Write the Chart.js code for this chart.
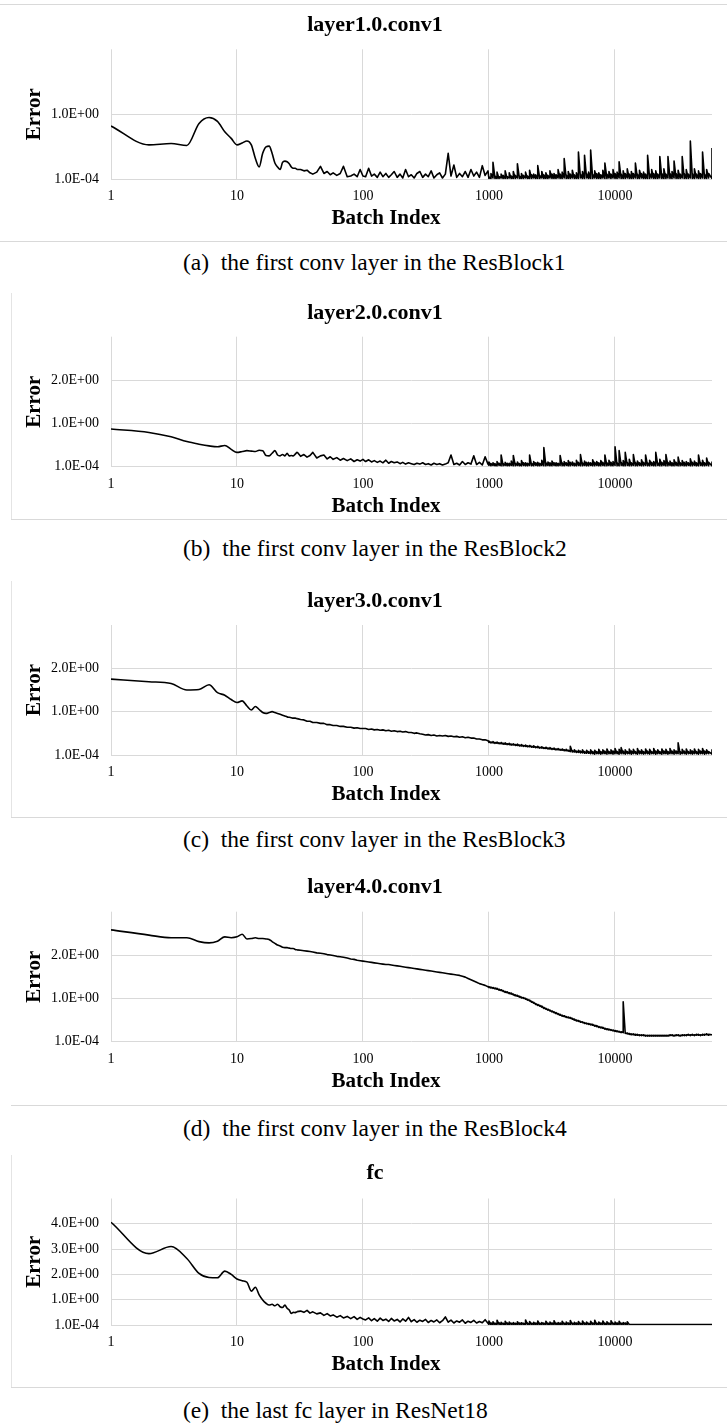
<!DOCTYPE html>
<html>
<head>
<meta charset="utf-8">
<script src="https://cdn.jsdelivr.net/npm/chart.js@4.4.1/dist/chart.umd.min.js"></script>
<style>
html,body{margin:0;padding:0;background:#fff;}
body{width:727px;height:1423px;position:relative;overflow:hidden;font-family:"Liberation Serif","Times New Roman",serif;}
canvas.panel{position:absolute;left:8px;}
.cap{position:absolute;left:183px;font-size:23.5px;line-height:24px;color:#000;white-space:nowrap;}
.hl{position:absolute;height:0;border-top:1px solid #d9d9d9;}
.vl{position:absolute;width:0;border-left:1px solid #e4e4e4;}
</style>
</head>
<body>
<div class="hl" style="top:4px;left:0;width:727px"></div>
<div class="hl" style="top:241px;left:0;width:727px"></div>
<div class="vl" style="left:11px;top:293px;height:226px"></div>
<div class="hl" style="top:519px;left:11px;width:716px"></div>
<div class="vl" style="left:11px;top:581px;height:236px"></div>
<div class="hl" style="top:817px;left:11px;width:716px"></div>
<div class="hl" style="top:1105px;left:11px;width:716px"></div>
<div class="vl" style="left:11px;top:1155px;height:232px"></div>
<div class="hl" style="top:1387px;left:11px;width:716px"></div>

<canvas class="panel" id="c0" width="734" height="236" style="top:5px"></canvas>
<canvas class="panel" id="c1" width="734" height="236" style="top:293px"></canvas>
<canvas class="panel" id="c2" width="734" height="236" style="top:581px"></canvas>
<canvas class="panel" id="c3" width="734" height="237" style="top:867px"></canvas>
<canvas class="panel" id="c4" width="734" height="234" style="top:1153px"></canvas>

<script>
// ---------------- DATA ----------------
const chartTitles = ['layer1.0.conv1', 'layer2.0.conv1', 'layer3.0.conv1', 'layer4.0.conv1', 'fc'];
const captions = [
  '(a)\u2002the first conv layer in the ResBlock1',
  '(b)\u2002the first conv layer in the ResBlock2',
  '(c)\u2002the first conv layer in the ResBlock3',
  '(d)\u2002the first conv layer in the ResBlock4',
  '(e)\u2002the last fc layer in ResNet18'
];
const xAxisTitle = 'Batch Index';
const yAxisTitle = 'Error';

const xTickValues = [1, 10, 100, 1000, 10000];
const xTickLabels = ['1', '10', '100', '1000', '10000'];
const xMaxBatch = 59000;

const yTicksTwo = [0.0001, 1];
const yLabelsTwo = ['1.0E-04', '1.0E+00'];
const yTicksThree = [0.0001, 1, 2];
const yLabelsThree = ['1.0E-04', '1.0E+00', '2.0E+00'];
const yTicksFive = [0.0001, 1, 2, 3, 4];
const yLabelsFive = ['1.0E-04', '1.0E+00', '2.0E+00', '3.0E+00', '4.0E+00'];
const yAxisMax = [2, 3, 3, 3, 5];

// batch indices (the last 110, from 1000 on, are dense bins that carry a low and a high value)
const batchIndex = [
  1, 2, 3, 4, 5, 6, 7, 8, 9, 10,
  11, 12, 13, 14, 15, 16, 17, 18, 19, 20,
  21, 22, 23, 24, 25, 26, 27, 28, 29, 30,
  32, 34, 36, 38, 40, 43, 46, 49, 52, 55,
  58, 62, 66, 70, 75, 80, 85, 90, 95, 100,
  105, 111, 117, 123, 130, 137, 144, 152, 160, 168,
  177, 187, 197, 207, 218, 230, 242, 255, 268, 283,
  298, 314, 330, 348, 366, 386, 406, 428, 451, 475,
  500, 527, 555, 585, 616, 649, 683, 720, 758, 798,
  841, 886, 933, 983,
  1000, 1038, 1077, 1118, 1160, 1204, 1250, 1297, 1346, 1397,
  1450, 1505, 1562, 1621, 1683, 1747, 1813, 1881, 1953, 2027,
  2103, 2183, 2266, 2352, 2441, 2533, 2629, 2729, 2832, 2940,
  3051, 3167, 3287, 3411, 3541, 3675, 3814, 3958, 4108, 4264,
  4426, 4593, 4767, 4948, 5135, 5330, 5532, 5741, 5959, 6185,
  6419, 6662, 6915, 7177, 7449, 7731, 8024, 8328, 8644, 8971,
  9311, 9664, 10030, 10410, 10805, 11214, 11639, 12080, 12538, 13013,
  13506, 14018, 14549, 15100, 15673, 16267, 16883, 17523, 18187, 18876,
  19591, 20334, 21104, 21904, 22734, 23595, 24489, 25417, 26380, 27380,
  28417, 29494, 30612, 31772, 32975, 34225, 35521, 36867, 38264, 39714,
  41219, 42781, 44402, 46085, 47831, 49643, 51524, 53477, 55503, 59000
];

const errLayer1 = [
  0.82, 0.53, 0.55, 0.52, 0.86, 0.95, 0.89, 0.73, 0.63, 0.53,
  0.56, 0.59, 0.53, 0.32, 0.19, 0.40, 0.50, 0.51, 0.40, 0.25,
  0.19, 0.15, 0.26, 0.28, 0.27, 0.24, 0.19, 0.17, 0.17, 0.15,
  0.15, 0.13, 0.14, 0.10, 0.08, 0.11, 0.20, 0.09, 0.12, 0.07,
  0.10, 0.06, 0.09, 0.20, 0.04, 0.05, 0.08, 0.04, 0.15, 0.05,
  0.04, 0.17, 0.05, 0.08, 0.03, 0.11, 0.04, 0.09, 0.03, 0.07,
  0.12, 0.03, 0.08, 0.02, 0.15, 0.04, 0.07, 0.02, 0.09, 0.12,
  0.03, 0.08, 0.04, 0.13, 0.02, 0.07, 0.10, 0.02, 0.08, 0.40,
  0.05, 0.22, 0.03, 0.09, 0.04, 0.12, 0.03, 0.15, 0.05, 0.11,
  0.03, 0.21, 0.06, 0.13,
  0.04, 0.09, 0.26, 0.05, 0.11, 0.04, 0.08, 0.06, 0.13, 0.04,
  0.10, 0.05, 0.12, 0.06, 0.24, 0.05, 0.09, 0.06, 0.11, 0.05,
  0.14, 0.07, 0.08, 0.07, 0.21, 0.06, 0.12, 0.07, 0.10, 0.06,
  0.13, 0.08, 0.09, 0.07, 0.15, 0.08, 0.11, 0.32, 0.07, 0.12,
  0.08, 0.14, 0.07, 0.10, 0.42, 0.08, 0.12, 0.37, 0.09, 0.11,
  0.45, 0.08, 0.13, 0.09, 0.10, 0.07, 0.14, 0.25, 0.08, 0.12,
  0.08, 0.15, 0.09, 0.11, 0.27, 0.08, 0.13, 0.09, 0.16, 0.08,
  0.12, 0.09, 0.25, 0.08, 0.14, 0.09, 0.11, 0.08, 0.37, 0.09,
  0.15, 0.09, 0.13, 0.08, 0.35, 0.09, 0.16, 0.08, 0.35, 0.09,
  0.12, 0.28, 0.09, 0.14, 0.08, 0.35, 0.09, 0.15, 0.08, 0.59,
  0.09, 0.16, 0.08, 0.13, 0.09, 0.42, 0.08, 0.15, 0.09, 0.48
];
const errLayer1Low = [
  0.01, 0.01, 0.02, 0.01, 0.01, 0.01, 0.02, 0.01, 0.01, 0.01,
  0.02, 0.01, 0.01, 0.01, 0.02, 0.01, 0.01, 0.01, 0.02, 0.01,
  0.01, 0.01, 0.02, 0.01, 0.01, 0.01, 0.02, 0.01, 0.01, 0.01,
  0.02, 0.01, 0.01, 0.01, 0.02, 0.01, 0.01, 0.02, 0.01, 0.01,
  0.01, 0.02, 0.01, 0.01, 0.01, 0.02, 0.01, 0.01, 0.02, 0.01,
  0.01, 0.01, 0.02, 0.01, 0.01, 0.01, 0.02, 0.01, 0.01, 0.02,
  0.01, 0.02, 0.01, 0.01, 0.02, 0.01, 0.01, 0.01, 0.02, 0.01,
  0.01, 0.01, 0.02, 0.01, 0.01, 0.02, 0.01, 0.01, 0.01, 0.01,
  0.02, 0.01, 0.01, 0.01, 0.02, 0.01, 0.01, 0.01, 0.02, 0.01,
  0.01, 0.02, 0.01, 0.01, 0.01, 0.02, 0.01, 0.01, 0.01, 0.02,
  0.01, 0.01, 0.02, 0.01, 0.01, 0.02, 0.01, 0.01, 0.02, 0.01
];

const errLayer2 = [
  0.87, 0.79, 0.69, 0.58, 0.52, 0.48, 0.46, 0.49, 0.40, 0.33,
  0.35, 0.37, 0.36, 0.35, 0.38, 0.37, 0.26, 0.25, 0.31, 0.37,
  0.27, 0.25, 0.28, 0.25, 0.31, 0.25, 0.26, 0.25, 0.29, 0.34,
  0.24, 0.28, 0.22, 0.26, 0.33, 0.20, 0.25, 0.27, 0.18, 0.23,
  0.17, 0.21, 0.15, 0.19, 0.14, 0.18, 0.12, 0.16, 0.13, 0.17,
  0.12, 0.16, 0.11, 0.14, 0.10, 0.13, 0.09, 0.15, 0.08, 0.12,
  0.09, 0.11, 0.07, 0.10, 0.06, 0.09, 0.07, 0.05, 0.08, 0.06,
  0.09, 0.05, 0.07, 0.04, 0.08, 0.05, 0.07, 0.04, 0.06, 0.09,
  0.27, 0.05, 0.08, 0.04, 0.12, 0.05, 0.09, 0.06, 0.25, 0.05,
  0.10, 0.04, 0.23, 0.06,
  0.11, 0.07, 0.09, 0.07, 0.12, 0.08, 0.27, 0.07, 0.10, 0.08,
  0.08, 0.13, 0.26, 0.08, 0.11, 0.07, 0.14, 0.09, 0.09, 0.08,
  0.27, 0.08, 0.12, 0.09, 0.10, 0.08, 0.15, 0.44, 0.09, 0.11,
  0.09, 0.13, 0.09, 0.09, 0.08, 0.26, 0.09, 0.12, 0.09, 0.14,
  0.10, 0.11, 0.08, 0.15, 0.10, 0.28, 0.09, 0.13, 0.10, 0.10,
  0.09, 0.16, 0.10, 0.12, 0.09, 0.14, 0.10, 0.27, 0.09, 0.15,
  0.10, 0.12, 0.46, 0.09, 0.37, 0.10, 0.14, 0.33, 0.10, 0.17,
  0.09, 0.28, 0.10, 0.13, 0.09, 0.16, 0.10, 0.27, 0.09, 0.15,
  0.10, 0.12, 0.33, 0.09, 0.17, 0.10, 0.14, 0.28, 0.10, 0.13,
  0.09, 0.16, 0.10, 0.22, 0.09, 0.14, 0.10, 0.12, 0.09, 0.18,
  0.10, 0.13, 0.09, 0.27, 0.10, 0.15, 0.09, 0.20, 0.10, 0.12
];
const errLayer2Low = [
  0.03, 0.02, 0.03, 0.02, 0.02, 0.03, 0.02, 0.02, 0.03, 0.02,
  0.02, 0.03, 0.02, 0.02, 0.03, 0.02, 0.02, 0.03, 0.02, 0.02,
  0.03, 0.02, 0.02, 0.03, 0.02, 0.02, 0.03, 0.02, 0.02, 0.03,
  0.02, 0.02, 0.03, 0.02, 0.02, 0.03, 0.02, 0.02, 0.03, 0.02,
  0.02, 0.03, 0.02, 0.02, 0.03, 0.02, 0.02, 0.03, 0.02, 0.02,
  0.03, 0.02, 0.02, 0.03, 0.02, 0.02, 0.03, 0.02, 0.02, 0.03,
  0.02, 0.02, 0.03, 0.02, 0.02, 0.03, 0.02, 0.02, 0.03, 0.02,
  0.02, 0.03, 0.02, 0.02, 0.03, 0.02, 0.02, 0.03, 0.02, 0.02,
  0.03, 0.02, 0.02, 0.03, 0.02, 0.02, 0.03, 0.02, 0.02, 0.03,
  0.02, 0.02, 0.03, 0.02, 0.02, 0.03, 0.02, 0.02, 0.03, 0.02,
  0.02, 0.03, 0.02, 0.02, 0.03, 0.02, 0.02, 0.03, 0.02, 0.02
];

const errLayer3 = [
  1.75, 1.69, 1.65, 1.50, 1.51, 1.62, 1.44, 1.38, 1.28, 1.21,
  1.25, 1.13, 1.04, 1.12, 1.05, 0.98, 0.96, 0.98, 1.00, 0.98,
  0.96, 0.94, 0.92, 0.90, 0.88, 0.87, 0.86, 0.85, 0.85, 0.84,
  0.82, 0.81, 0.78, 0.78, 0.75, 0.75, 0.73, 0.73, 0.70, 0.70,
  0.68, 0.68, 0.66, 0.66, 0.64, 0.64, 0.62, 0.63, 0.61, 0.61,
  0.61, 0.59, 0.60, 0.58, 0.59, 0.57, 0.58, 0.56, 0.57, 0.55,
  0.56, 0.54, 0.55, 0.53, 0.54, 0.52, 0.52, 0.50, 0.51, 0.49,
  0.48, 0.46, 0.47, 0.45, 0.46, 0.44, 0.45, 0.44, 0.45, 0.43,
  0.44, 0.42, 0.43, 0.41, 0.42, 0.40, 0.41, 0.39, 0.39, 0.37,
  0.37, 0.35, 0.35, 0.33,
  0.32, 0.30, 0.31, 0.29, 0.30, 0.28, 0.29, 0.27, 0.28, 0.26,
  0.27, 0.25, 0.26, 0.24, 0.25, 0.23, 0.24, 0.22, 0.23, 0.21,
  0.22, 0.20, 0.21, 0.19, 0.20, 0.18, 0.19, 0.17, 0.18, 0.16,
  0.17, 0.15, 0.16, 0.14, 0.15, 0.13, 0.14, 0.12, 0.13, 0.11,
  0.20, 0.10, 0.12, 0.09, 0.11, 0.09, 0.12, 0.08, 0.11, 0.08,
  0.12, 0.08, 0.11, 0.08, 0.13, 0.08, 0.12, 0.09, 0.14, 0.08,
  0.12, 0.09, 0.15, 0.08, 0.13, 0.17, 0.09, 0.12, 0.08, 0.14,
  0.09, 0.13, 0.08, 0.15, 0.09, 0.12, 0.08, 0.14, 0.09, 0.13,
  0.08, 0.15, 0.09, 0.12, 0.08, 0.14, 0.09, 0.13, 0.08, 0.15,
  0.09, 0.12, 0.09, 0.28, 0.08, 0.13, 0.09, 0.14, 0.08, 0.12,
  0.09, 0.14, 0.08, 0.13, 0.09, 0.15, 0.09, 0.12, 0.08, 0.13
];
const errLayer3Low = [
  0.29, 0.28, 0.28, 0.27, 0.27, 0.26, 0.26, 0.25, 0.25, 0.24,
  0.24, 0.23, 0.23, 0.22, 0.22, 0.21, 0.21, 0.20, 0.20, 0.19,
  0.19, 0.18, 0.18, 0.17, 0.17, 0.16, 0.16, 0.15, 0.15, 0.14,
  0.14, 0.13, 0.13, 0.12, 0.12, 0.11, 0.11, 0.10, 0.10, 0.09,
  0.08, 0.07, 0.07, 0.06, 0.06, 0.05, 0.05, 0.04, 0.04, 0.04,
  0.03, 0.03, 0.02, 0.03, 0.03, 0.02, 0.03, 0.03, 0.02, 0.03,
  0.03, 0.02, 0.03, 0.03, 0.02, 0.03, 0.03, 0.02, 0.03, 0.03,
  0.02, 0.03, 0.03, 0.02, 0.03, 0.03, 0.02, 0.03, 0.03, 0.02,
  0.03, 0.03, 0.02, 0.03, 0.03, 0.02, 0.03, 0.03, 0.02, 0.03,
  0.03, 0.02, 0.03, 0.03, 0.02, 0.03, 0.03, 0.02, 0.03, 0.03,
  0.02, 0.03, 0.03, 0.02, 0.03, 0.03, 0.02, 0.03, 0.03, 0.02
];

const errLayer4 = [
  2.58, 2.46, 2.40, 2.40, 2.31, 2.28, 2.32, 2.42, 2.40, 2.42,
  2.48, 2.37, 2.38, 2.40, 2.38, 2.38, 2.37, 2.36, 2.31, 2.27,
  2.23, 2.21, 2.18, 2.17, 2.17, 2.16, 2.15, 2.15, 2.13, 2.12,
  2.11, 2.10, 2.09, 2.08, 2.07, 2.05, 2.04, 2.03, 2.01, 2.00,
  1.99, 1.97, 1.96, 1.95, 1.93, 1.91, 1.90, 1.88, 1.87, 1.86,
  1.85, 1.84, 1.83, 1.82, 1.81, 1.80, 1.79, 1.78, 1.78, 1.77,
  1.76, 1.75, 1.74, 1.73, 1.72, 1.71, 1.70, 1.69, 1.68, 1.67,
  1.66, 1.65, 1.64, 1.63, 1.62, 1.61, 1.60, 1.59, 1.58, 1.57,
  1.56, 1.55, 1.54, 1.53, 1.51, 1.49, 1.46, 1.43, 1.40, 1.37,
  1.34, 1.32, 1.30, 1.27,
  1.27, 1.26, 1.25, 1.24, 1.23, 1.21, 1.20, 1.18, 1.16, 1.15,
  1.13, 1.12, 1.10, 1.08, 1.07, 1.05, 1.03, 1.02, 1.00, 0.98,
  0.96, 0.93, 0.91, 0.88, 0.86, 0.84, 0.82, 0.79, 0.77, 0.75,
  0.73, 0.71, 0.69, 0.67, 0.65, 0.63, 0.61, 0.60, 0.58, 0.57,
  0.56, 0.54, 0.52, 0.50, 0.49, 0.47, 0.46, 0.44, 0.43, 0.42,
  0.41, 0.40, 0.38, 0.37, 0.35, 0.34, 0.33, 0.31, 0.30, 0.29,
  0.28, 0.27, 0.26, 0.25, 0.24, 0.23, 0.92, 0.21, 0.20, 0.19,
  0.18, 0.18, 0.17, 0.17, 0.16, 0.16, 0.16, 0.15, 0.15, 0.15,
  0.15, 0.15, 0.15, 0.15, 0.15, 0.15, 0.15, 0.15, 0.15, 0.16,
  0.16, 0.15, 0.16, 0.16, 0.15, 0.16, 0.16, 0.16, 0.17, 0.16,
  0.17, 0.16, 0.17, 0.17, 0.16, 0.17, 0.17, 0.18, 0.17, 0.18
];
const errLayer4Low = [
  1.25, 1.24, 1.23, 1.22, 1.21, 1.19, 1.18, 1.16, 1.14, 1.13,
  1.11, 1.10, 1.08, 1.06, 1.05, 1.03, 1.01, 1.00, 0.98, 0.96,
  0.94, 0.91, 0.89, 0.86, 0.84, 0.82, 0.80, 0.77, 0.75, 0.73,
  0.71, 0.69, 0.67, 0.65, 0.63, 0.61, 0.59, 0.58, 0.56, 0.55,
  0.54, 0.52, 0.50, 0.48, 0.47, 0.45, 0.44, 0.42, 0.41, 0.40,
  0.39, 0.38, 0.36, 0.35, 0.33, 0.32, 0.31, 0.29, 0.28, 0.27,
  0.26, 0.25, 0.24, 0.23, 0.22, 0.21, 0.21, 0.19, 0.18, 0.17,
  0.16, 0.16, 0.15, 0.15, 0.14, 0.14, 0.14, 0.13, 0.13, 0.13,
  0.13, 0.13, 0.13, 0.13, 0.13, 0.13, 0.13, 0.13, 0.13, 0.14,
  0.14, 0.13, 0.14, 0.14, 0.13, 0.14, 0.14, 0.14, 0.15, 0.14,
  0.15, 0.14, 0.15, 0.15, 0.14, 0.15, 0.15, 0.16, 0.15, 0.16
];

const errFc = [
  4.06, 2.82, 3.10, 2.63, 2.04, 1.88, 1.87, 2.13, 2.00, 1.82,
  1.75, 1.69, 1.34, 1.49, 1.19, 0.99, 0.86, 0.79, 0.82, 0.76,
  0.82, 0.72, 0.69, 0.79, 0.66, 0.59, 0.46, 0.50, 0.49, 0.53,
  0.55, 0.50, 0.58, 0.47, 0.52, 0.44, 0.48, 0.38, 0.45, 0.36,
  0.40, 0.31, 0.37, 0.28, 0.34, 0.25, 0.33, 0.22, 0.30, 0.24,
  0.20, 0.28, 0.17, 0.25, 0.15, 0.27, 0.18, 0.23, 0.14, 0.26,
  0.16, 0.22, 0.12, 0.24, 0.15, 0.30, 0.13, 0.21, 0.11, 0.19,
  0.14, 0.22, 0.10, 0.18, 0.12, 0.20, 0.09, 0.17, 0.32, 0.11,
  0.19, 0.08, 0.16, 0.11, 0.20, 0.07, 0.15, 0.10, 0.18, 0.08,
  0.14, 0.09, 0.21, 0.07,
  0.16, 0.08, 0.13, 0.07, 0.19, 0.09, 0.11, 0.07, 0.15, 0.08,
  0.12, 0.07, 0.10, 0.07, 0.13, 0.08, 0.09, 0.07, 0.20, 0.08,
  0.14, 0.07, 0.11, 0.08, 0.16, 0.07, 0.10, 0.08, 0.15, 0.07,
  0.12, 0.08, 0.17, 0.07, 0.10, 0.08, 0.15, 0.07, 0.12, 0.08,
  0.18, 0.07, 0.11, 0.08, 0.14, 0.07, 0.16, 0.08, 0.12, 0.07,
  0.15, 0.08, 0.19, 0.07, 0.12, 0.08, 0.16, 0.07, 0.13, 0.08,
  0.17, 0.07, 0.12, 0.08, 0.15, 0.07, 0.10, 0.08, 0.13, 0.02,
  0.02, 0.02, 0.02, 0.02, 0.02, 0.02, 0.02, 0.02, 0.02, 0.02,
  0.02, 0.02, 0.02, 0.02, 0.02, 0.02, 0.02, 0.02, 0.02, 0.02,
  0.02, 0.02, 0.02, 0.02, 0.02, 0.02, 0.02, 0.02, 0.02, 0.02,
  0.02, 0.02, 0.02, 0.02, 0.02, 0.02, 0.02, 0.02, 0.02, 0.02
];
const errFcLow = [
  0.02, 0.01, 0.02, 0.01, 0.02, 0.02, 0.01, 0.02, 0.01, 0.02,
  0.01, 0.02, 0.02, 0.01, 0.02, 0.01, 0.02, 0.02, 0.01, 0.02,
  0.01, 0.02, 0.02, 0.01, 0.02, 0.01, 0.02, 0.02, 0.01, 0.02,
  0.01, 0.02, 0.02, 0.01, 0.02, 0.01, 0.02, 0.02, 0.01, 0.02,
  0.01, 0.02, 0.02, 0.01, 0.02, 0.01, 0.02, 0.02, 0.01, 0.02,
  0.01, 0.02, 0.02, 0.01, 0.02, 0.01, 0.02, 0.02, 0.01, 0.02,
  0.01, 0.02, 0.02, 0.01, 0.02, 0.01, 0.02, 0.02, 0.01, 0.02,
  0.02, 0.02, 0.02, 0.02, 0.02, 0.02, 0.02, 0.02, 0.02, 0.02,
  0.02, 0.02, 0.02, 0.02, 0.02, 0.02, 0.02, 0.02, 0.02, 0.02,
  0.02, 0.02, 0.02, 0.02, 0.02, 0.02, 0.02, 0.02, 0.02, 0.02,
  0.02, 0.02, 0.02, 0.02, 0.02, 0.02, 0.02, 0.02, 0.02, 0.02
];

// ---------------- LAYOUT / STYLE ----------------
const FONT = '"Liberation Serif", "Times New Roman", serif';
const SMOOTH_COUNT = 30;
const DENSE_START = 94;
const panelSeries = [errLayer1, errLayer2, errLayer3, errLayer4, errFc];
const panelLows = [errLayer1Low, errLayer2Low, errLayer3Low, errLayer4Low, errFcLow];
const panelYTicks = [yTicksTwo, yTicksThree, yTicksThree, yTicksThree, yTicksFive];
const panelYLabels = [yLabelsTwo, yLabelsThree, yLabelsThree, yLabelsThree, yLabelsFive];
const frames = [
  {h: 236, titleOff: 20.0, plotTop: 44.3, plotBottom: 174.3, capTop: 250},
  {h: 236, titleOff: 20.5, plotTop: 43.7, plotBottom: 173.7, capTop: 536},
  {h: 236, titleOff: 20.0, plotTop: 44.0, plotBottom: 174.0, capTop: 827},
  {h: 237, titleOff: 20.5, plotTop: 44.7, plotBottom: 174.7, capTop: 1116},
  {h: 234, titleOff: 20.0, plotTop: 45.5, plotBottom: 172.0, capTop: 1398}
];

const xTitlePlugin = {
  id: 'xTitle',
  afterDraw(chart, args, opts) {
    const ctx = chart.ctx;
    ctx.save();
    ctx.font = 'bold 21px ' + FONT;
    ctx.fillStyle = '#000';
    ctx.textAlign = 'center';
    ctx.textBaseline = 'middle';
    ctx.fillText(opts.text, opts.x, chart.chartArea.bottom + opts.dy);
    ctx.restore();
  }
};

frames.forEach((f, i) => {
  const series = panelSeries[i];
  const lows = panelLows[i];
  const yVals = panelYTicks[i];
  const yLabs = panelYLabels[i];
  const pts = [];
  batchIndex.forEach((b, k) => {
    if (k >= DENSE_START) pts.push({x: b, y: lows[k - DENSE_START]});
    pts.push({x: b, y: series[k]});
  });
  const titleLH = 22 * 1.2;
  const lineStyle = {borderColor: '#000', borderWidth: 1.6, pointRadius: 0, fill: false, borderJoinStyle: 'round'};
  new Chart(document.getElementById('c' + i), {
    type: 'line',
    data: {datasets: [
      Object.assign({data: pts.slice(0, SMOOTH_COUNT), cubicInterpolationMode: 'monotone'}, lineStyle),
      Object.assign({data: pts.slice(SMOOTH_COUNT - 1), tension: 0}, lineStyle)
    ]},
    plugins: [xTitlePlugin],
    options: {
      responsive: false,
      animation: false,
      devicePixelRatio: 1,
      layout: {padding: {left: 30, right: 30, top: 0, bottom: 0}},
      plugins: {
        legend: {display: false},
        tooltip: {enabled: false},
        title: {
          display: true,
          text: chartTitles[i],
          color: '#000',
          font: {family: FONT, size: 22, weight: 'bold'},
          padding: {top: f.titleOff - titleLH / 2, bottom: f.plotTop - f.titleOff - titleLH / 2}
        },
        xTitle: {text: xAxisTitle, x: 378, dy: 39.5}
      },
      scales: {
        x: {
          type: 'logarithmic',
          min: 1,
          max: xMaxBatch,
          afterBuildTicks: s => { s.ticks = xTickValues.map(v => ({value: v})); },
          afterFit: s => { s.height = f.h - f.plotBottom; },
          ticks: {
            autoSkip: false, maxRotation: 0, padding: 9, color: '#000',
            font: {family: FONT, size: 14},
            callback: (v, idx) => xTickLabels[idx]
          },
          grid: {color: '#d9d9d9', lineWidth: 1, drawTicks: false},
          border: {display: false}
        },
        y: {
          type: 'linear',
          min: 0.0001,
          max: yAxisMax[i],
          afterBuildTicks: s => { s.ticks = yVals.map(v => ({value: v})); },
          afterFit: s => { s.width = 73; },
          ticks: {
            padding: 12, color: '#000',
            font: {family: FONT, size: 14},
            callback: (v, idx) => yLabs[idx]
          },
          grid: {color: '#d9d9d9', lineWidth: 1, drawTicks: false},
          border: {display: false},
          title: {
            display: true, text: yAxisTitle, color: '#000',
            font: {family: FONT, size: 21, weight: 'bold'},
            padding: {top: -15.9, bottom: 0}
          }
        }
      }
    }
  });
  const cap = document.createElement('div');
  cap.className = 'cap';
  cap.style.top = f.capTop + 'px';
  cap.textContent = captions[i];
  document.body.appendChild(cap);
});
</script>
</body>
</html>
